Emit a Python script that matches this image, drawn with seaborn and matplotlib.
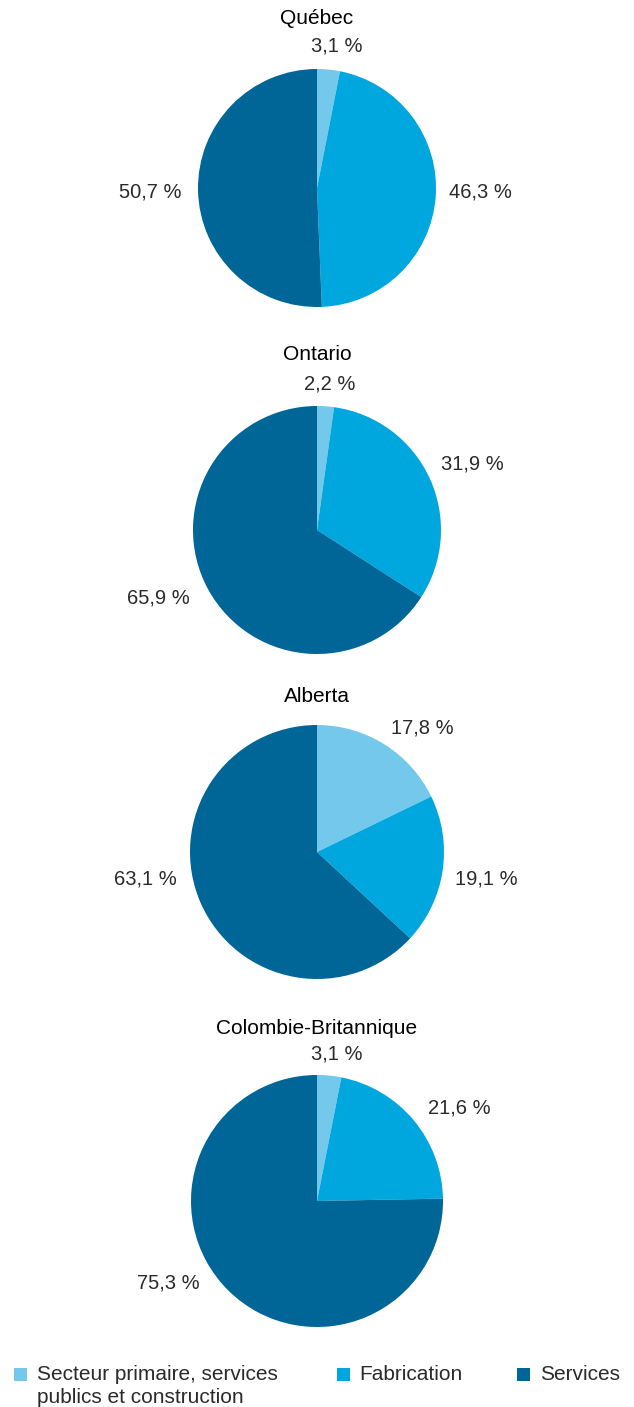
import seaborn as sns
import matplotlib.pyplot as plt
from matplotlib.patches import Rectangle

# 数据
provinces = ["Québec", "Ontario", "Alberta", "Colombie-Britannique"]
secteurs = ["Secteur primaire, services\npublics et construction", "Fabrication", "Services"]
quebec = [3.1, 46.3, 50.7]
ontario = [2.2, 31.9, 65.9]
alberta = [17.8, 19.1, 63.1]
colombie = [3.1, 21.6, 75.3]
valeurs = [quebec, ontario, alberta, colombie]

couleurs = ["#74C8EB", "#00A7DF", "#006597"]
texte = '#2a2a2a'

# 布局 (像素)
W, H = 634, 1407
centres = [188, 530, 852, 1201]
rayons = [119, 124, 127, 126]
titres_y = [18, 355, 697, 1028]
# 标签位置 (相对半径)
etiquettes_pos = [
    [(0.17, 1.19), (1.37, -0.03), (-1.40, -0.03)],
    [(0.10, 1.18), (1.25, 0.53), (-1.28, -0.55)],
    [(0.83, 0.98), (1.33, -0.21), (-1.35, -0.21)],
    [(0.16, 1.17), (1.13, 0.74), (-1.18, -0.65)],
]
legende_carre_x = [14, 337, 517]
legende_texte_x = [37, 359, 540]

sns.set_style("white")
plt.rcParams['font.family'] = ['Liberation Sans', 'DejaVu Sans']

fig = plt.figure(figsize=(W / 100, H / 100), dpi=100)

for i, nom in enumerate(provinces):
    cy, r = centres[i], rayons[i]
    ax = fig.add_axes([(317 - r) / W, 1 - (cy + r) / H, 2 * r / W, 2 * r / H])
    ax.pie(valeurs[i], colors=couleurs, startangle=90, counterclock=False,
           radius=1, wedgeprops=dict(linewidth=0))
    ax.set_xlim(-1, 1)
    ax.set_ylim(-1, 1)
    ax.set_aspect('equal')
    ax.axis('off')
    for v, (dx, dy) in zip(valeurs[i], etiquettes_pos[i]):
        ax.text(dx, dy, f"{v:.1f} %".replace(".", ","), ha='center', va='center',
                fontsize=14.5, color=texte, clip_on=False)
    fig.text(0.5, 1 - titres_y[i] / H, nom, ha='center', va='center',
             fontsize=15, color='black')

# 图例
for c, xc, xt, lab in zip(couleurs, legende_carre_x, legende_texte_x, secteurs):
    fig.patches.append(Rectangle((xc / W, 1 - 1381 / H), 13 / W, 13 / H,
                                 facecolor=c, edgecolor='none',
                                 transform=fig.transFigure, figure=fig))
    fig.text(xt / W, 1 - 1365 / H, lab, ha='left', va='top', fontsize=15,
             color=texte, linespacing=1.25)

plt.savefig('out.png', dpi=100)
